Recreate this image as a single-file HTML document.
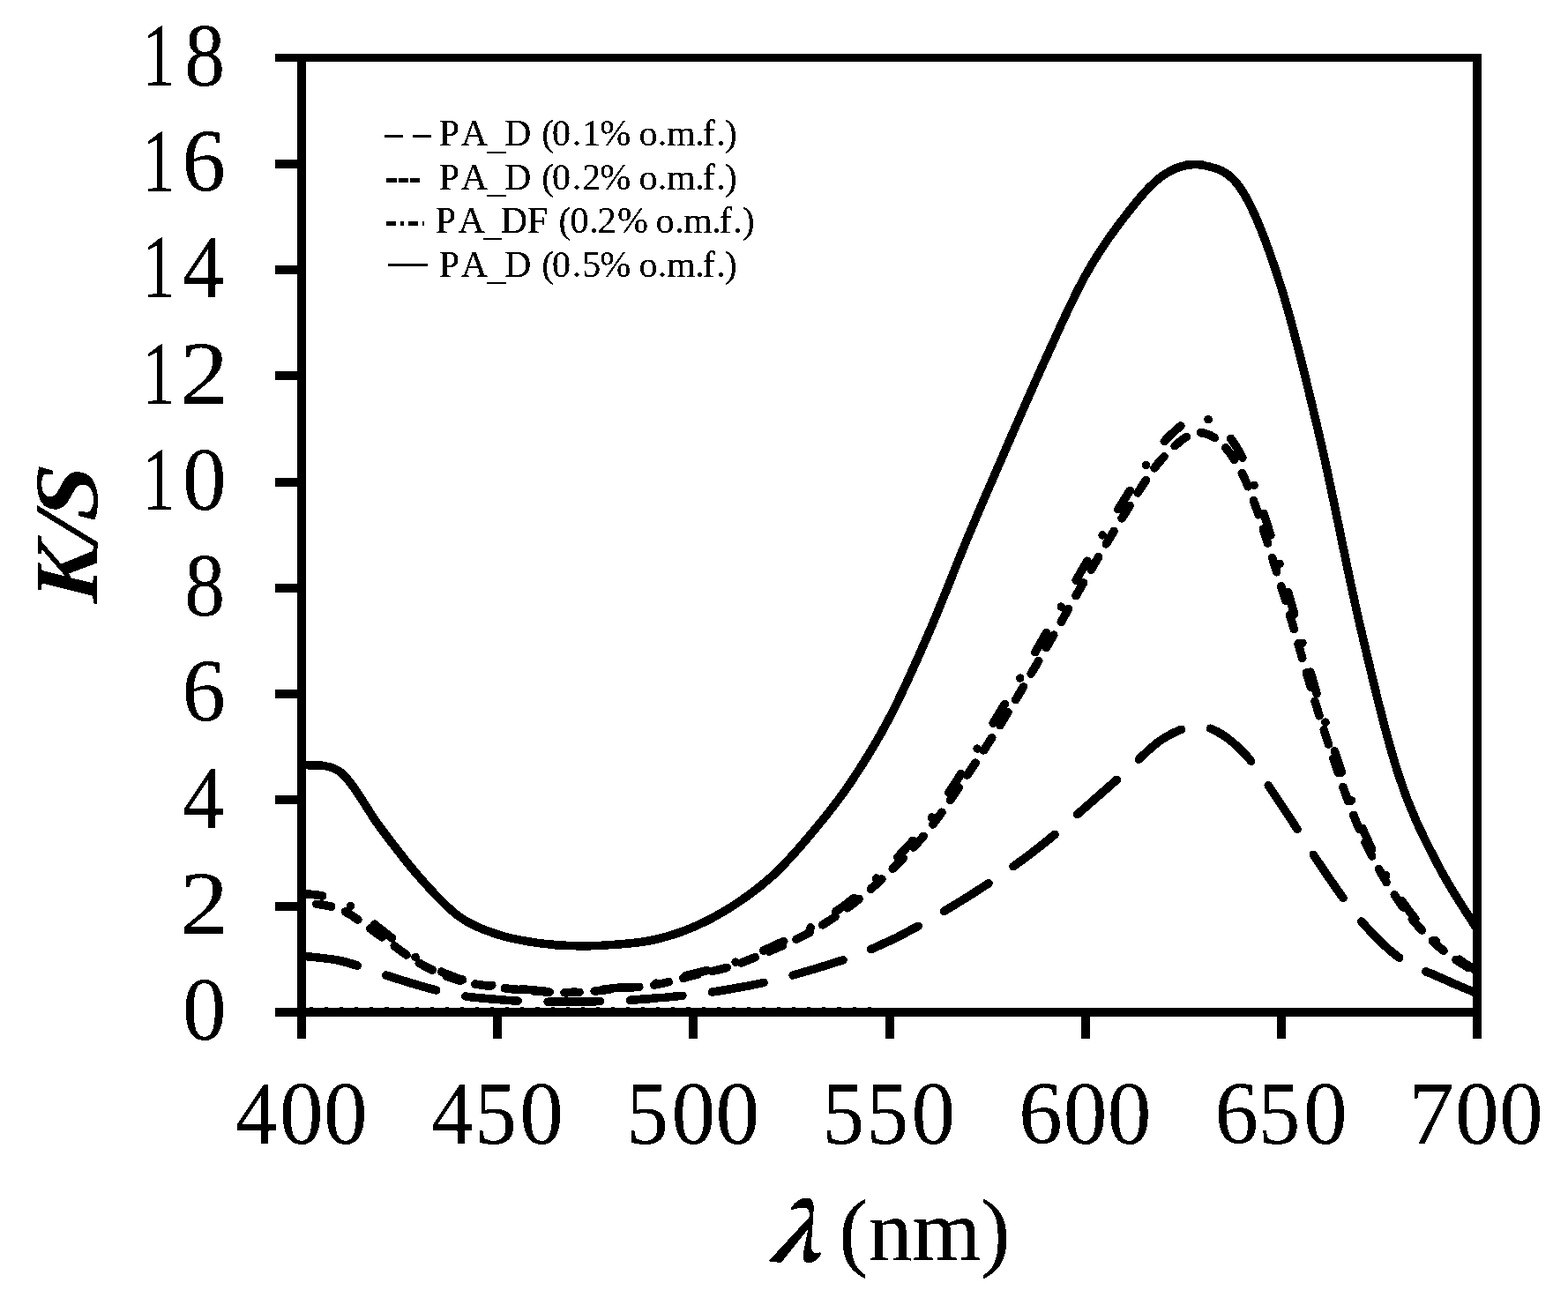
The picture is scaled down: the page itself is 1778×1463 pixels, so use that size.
<!DOCTYPE html>
<html lang="en"><head><meta charset="utf-8"><title>K/S vs wavelength</title>
<style>html,body{margin:0;padding:0;background:#fff;}body{width:1778px;height:1463px;overflow:hidden;}svg{display:block;}</style>
</head><body>
<svg width="1778" height="1463" viewBox="0 0 1778 1463">
<defs><filter id="bw" x="0" y="0" width="100%" height="100%" filterUnits="objectBoundingBox" color-interpolation-filters="sRGB"><feComponentTransfer><feFuncR type="discrete" tableValues="0 1"/><feFuncG type="discrete" tableValues="0 1"/><feFuncB type="discrete" tableValues="0 1"/></feComponentTransfer></filter></defs>
<g filter="url(#bw)">
<rect width="1778" height="1463" fill="#fff"/>
<g fill="none" stroke="#000" stroke-linecap="round" stroke-linejoin="round">
<path d="M347,1142.4 H1000" stroke-width="1.3" stroke-linecap="butt" stroke-dasharray="4 13.1" stroke-dashoffset="-4"/>
<path d="M342.0,1084.0 C349.4,1085.0 371.6,1086.4 386.4,1089.7 C401.2,1093.0 416.1,1099.2 430.9,1103.8 C445.7,1108.5 460.5,1113.5 475.3,1117.6 C490.1,1121.8 504.9,1126.0 519.7,1128.7 C534.5,1131.3 549.4,1132.3 564.2,1133.5 C579.0,1134.7 593.8,1135.7 608.6,1136.1 C623.4,1136.5 638.2,1136.0 653.0,1135.9 C667.8,1135.7 682.7,1135.7 697.5,1135.1 C712.3,1134.5 727.1,1133.3 741.9,1132.1 C756.7,1130.9 771.5,1129.7 786.3,1127.9 C801.1,1126.1 816.0,1123.8 830.8,1121.2 C845.6,1118.7 860.4,1115.9 875.2,1112.3 C890.0,1108.8 904.8,1104.4 919.6,1100.0 C934.4,1095.6 949.3,1091.4 964.1,1085.9 C978.9,1080.5 993.7,1074.3 1008.5,1067.2 C1023.3,1060.2 1038.1,1052.0 1052.9,1043.7 C1067.7,1035.3 1082.6,1026.3 1097.4,1017.0 C1112.2,1007.7 1127.0,998.2 1141.8,987.8 C1156.6,977.4 1171.4,966.5 1186.2,954.5 C1201.0,942.4 1215.9,928.6 1230.7,915.7 C1245.5,902.7 1260.3,889.7 1275.1,876.7 C1289.9,863.6 1304.7,846.2 1319.5,837.4 C1334.3,828.6 1349.2,821.5 1364.0,823.9 C1378.8,826.3 1393.6,836.8 1408.4,851.6 C1423.2,866.4 1438.0,891.0 1452.8,912.6 C1467.6,934.2 1482.5,959.7 1497.3,981.3 C1512.1,1003.0 1526.9,1025.2 1541.7,1042.6 C1556.5,1060.0 1571.3,1075.0 1586.1,1085.8 C1600.9,1096.7 1615.8,1100.8 1630.6,1107.6 C1645.4,1114.4 1667.6,1123.6 1675.0,1126.8" stroke-width="9.6" stroke-dasharray="59.5 34" stroke-dashoffset="-5"/>
<path d="M342.0,1023.5 C349.4,1024.8 371.6,1025.2 386.4,1031.5 C401.2,1037.8 416.1,1051.0 430.9,1061.1 C445.7,1071.2 460.5,1083.8 475.3,1092.2 C490.1,1100.7 504.9,1107.1 519.7,1111.7 C534.5,1116.3 549.4,1117.6 564.2,1119.7 C579.0,1121.8 593.8,1123.2 608.6,1124.2 C623.4,1125.2 638.2,1125.9 653.0,1125.5 C667.8,1125.0 682.7,1123.0 697.5,1121.6 C712.3,1120.2 727.1,1119.6 741.9,1117.0 C756.7,1114.5 771.5,1109.9 786.3,1106.3 C801.1,1102.7 816.0,1100.1 830.8,1095.3 C845.6,1090.5 860.4,1084.2 875.2,1077.7 C890.0,1071.3 904.8,1065.0 919.6,1056.6 C934.4,1048.2 949.3,1038.6 964.1,1027.3 C978.9,1016.0 993.7,1003.2 1008.5,988.9 C1023.3,974.5 1038.1,959.7 1052.9,941.3 C1067.7,922.8 1082.6,900.0 1097.4,878.1 C1112.2,856.2 1127.0,833.7 1141.8,809.8 C1156.6,785.9 1171.4,760.3 1186.2,734.9 C1201.0,709.5 1215.9,682.5 1230.7,657.2 C1245.5,631.9 1260.3,606.2 1275.1,583.1 C1289.9,559.9 1304.7,533.7 1319.5,518.4 C1334.3,503.0 1349.2,488.0 1364.0,491.0 C1378.8,494.0 1393.6,507.6 1408.4,536.7 C1423.2,565.7 1438.0,618.7 1452.8,665.2 C1467.6,711.7 1482.5,769.5 1497.3,815.6 C1512.1,861.6 1526.9,906.9 1541.7,941.3 C1556.5,975.7 1571.3,1000.2 1586.1,1022.1 C1600.9,1044.1 1615.8,1059.3 1630.6,1072.9 C1645.4,1086.5 1667.6,1098.6 1675.0,1103.8" stroke-width="9.6" stroke-dasharray="17 17" stroke-dashoffset="17"/>
<path d="M342.0,1013.0 C349.4,1014.4 371.6,1014.8 386.4,1021.5 C401.2,1028.2 416.1,1041.9 430.9,1053.0 C445.7,1064.1 460.5,1078.8 475.3,1088.2 C490.1,1097.7 504.9,1104.7 519.7,1109.7 C534.5,1114.7 549.4,1116.0 564.2,1118.2 C579.0,1120.5 593.8,1122.2 608.6,1123.2 C623.4,1124.2 638.2,1124.9 653.0,1124.5 C667.8,1124.0 682.7,1122.1 697.5,1120.6 C712.3,1119.1 727.1,1118.2 741.9,1115.5 C756.7,1112.8 771.5,1108.2 786.3,1104.3 C801.1,1100.5 816.0,1097.4 830.8,1092.3 C845.6,1087.2 860.4,1080.5 875.2,1073.7 C890.0,1066.9 904.8,1060.2 919.6,1051.6 C934.4,1042.9 949.3,1033.5 964.1,1021.8 C978.9,1010.1 993.7,996.5 1008.5,981.6 C1023.3,966.6 1038.1,951.2 1052.9,931.9 C1067.7,912.6 1082.6,888.6 1097.4,865.7 C1112.2,842.8 1127.0,818.9 1141.8,794.3 C1156.6,769.7 1171.4,743.9 1186.2,718.1 C1201.0,692.4 1215.9,665.2 1230.7,639.8 C1245.5,614.5 1260.3,589.2 1275.1,566.1 C1289.9,543.0 1304.7,516.7 1319.5,501.4 C1334.3,486.0 1349.2,471.2 1364.0,474.0 C1378.8,476.8 1393.6,489.5 1408.4,518.1 C1423.2,546.7 1438.0,598.5 1452.8,645.6 C1467.6,692.7 1482.5,752.9 1497.3,800.6 C1512.1,848.3 1526.9,895.8 1541.7,931.8 C1556.5,967.8 1571.3,993.4 1586.1,1016.3 C1600.9,1039.3 1615.8,1055.1 1630.6,1069.4 C1645.4,1083.6 1667.6,1096.4 1675.0,1101.8" stroke-width="9.6" stroke-dasharray="25.5 34 0.01 34" stroke-dashoffset="1.5"/>
<path d="M342.0,867.4 C349.4,868.9 371.6,864.3 386.4,876.1 C401.2,887.9 416.1,918.4 430.9,938.1 C445.7,957.8 460.5,977.6 475.3,994.4 C490.1,1011.2 504.9,1027.9 519.7,1038.8 C534.5,1049.7 549.4,1054.6 564.2,1059.7 C579.0,1064.8 593.8,1067.1 608.6,1069.3 C623.4,1071.5 638.2,1072.5 653.0,1072.8 C667.8,1073.1 682.7,1072.5 697.5,1071.3 C712.3,1070.1 727.1,1069.0 741.9,1065.7 C756.7,1062.4 771.5,1057.8 786.3,1051.4 C801.1,1045.0 816.0,1037.1 830.8,1027.5 C845.6,1017.9 860.4,1007.5 875.2,993.9 C890.0,980.3 904.8,963.4 919.6,945.8 C934.4,928.2 949.3,910.0 964.1,888.1 C978.9,866.2 993.7,842.6 1008.5,814.3 C1023.3,786.0 1038.1,752.6 1052.9,718.5 C1067.7,684.4 1082.6,644.9 1097.4,609.5 C1112.2,574.1 1127.0,540.2 1141.8,506.2 C1156.6,472.2 1171.4,438.0 1186.2,405.7 C1201.0,373.4 1215.9,339.1 1230.7,312.5 C1245.5,285.9 1260.3,265.1 1275.1,246.1 C1289.9,227.1 1304.7,208.2 1319.5,198.4 C1334.3,188.6 1349.2,184.3 1364.0,187.3 C1378.8,190.3 1393.6,193.1 1408.4,216.2 C1423.2,239.3 1438.0,278.8 1452.8,326.0 C1467.6,373.2 1482.5,436.1 1497.3,499.7 C1512.1,563.2 1526.9,644.0 1541.7,707.3 C1556.5,770.6 1571.3,833.9 1586.1,879.5 C1600.9,925.1 1615.8,952.0 1630.6,981.0 C1645.4,1010.0 1667.6,1041.7 1675.0,1053.8" stroke-width="9.6"/>
</g>
<g fill="#000" shape-rendering="crispEdges">
<rect x="312" y="61" width="1368" height="9"/>
<rect x="312" y="1143" width="1368" height="10"/>
<rect x="337" y="61" width="10" height="1117"/>
<rect x="1670" y="61" width="10" height="1117"/>
<rect x="312" y="180.8" width="30" height="10"/>
<rect x="312" y="301.1" width="30" height="10"/>
<rect x="312" y="421.3" width="30" height="10"/>
<rect x="312" y="541.6" width="30" height="10"/>
<rect x="312" y="661.9" width="30" height="10"/>
<rect x="312" y="782.2" width="30" height="10"/>
<rect x="312" y="902.4" width="30" height="10"/>
<rect x="312" y="1022.7" width="30" height="10"/>
<rect x="559.2" y="1148" width="10" height="30"/>
<rect x="781.3" y="1148" width="10" height="30"/>
<rect x="1003.5" y="1148" width="10" height="30"/>
<rect x="1225.7" y="1148" width="10" height="30"/>
<rect x="1447.8" y="1148" width="10" height="30"/>
</g>
<g stroke="#000" fill="none" shape-rendering="crispEdges">
<path d="M436,154.3 H489" stroke-width="3.4" stroke-dasharray="21 11"/>
<path d="M438,204.8 H476" stroke-width="4.8" stroke-dasharray="11.5 2"/>
<path d="M438,253 H481" stroke-width="5" stroke-dasharray="11 5 3.5 5"/>
<path d="M440,300.6 H485" stroke-width="3.7"/>
</g>
<g font-family="'Liberation Serif', serif" fill="#000">
<text x="497.8 522.8 552.2 571.9 602 614.3 626.1 648.8 660.3 680.3 715 724.5 745.8 756 788.2 796.6 812.1 821.8" y="165.3" dy="0 0 3.4 -3.4 0 0 0 0 0 0 0 0 0 0 0 0 0 0" font-size="42" stroke="#000" stroke-width="0.2" style="font-kerning:none" xml:space="preserve">PA_D (0.1% o.m.f.)</text>
<text x="497.8 522.8 552.2 571.9 602 614.3 626.1 648.8 660.3 680.3 715 724.5 745.8 756 788.2 796.6 812.1 821.8" y="215" dy="0 0 3.4 -3.4 0 0 0 0 0 0 0 0 0 0 0 0 0 0" font-size="42" stroke="#000" stroke-width="0.2" style="font-kerning:none" xml:space="preserve">PA_D (0.2% o.m.f.)</text>
<text x="493.7 519.4 548.1 567.8 597.8 621 633.5 646.6 668 677.8 700.1 735 743.6 765 775.1 807.4 815.7 831.2 841.7" y="263.7" dy="0 0 3.4 -3.4 0 0 0 0 0 0 0 0 0 0 0 0 0 0 0" font-size="42" stroke="#000" stroke-width="0.2" style="font-kerning:none" xml:space="preserve">PA_DF (0.2% o.m.f.)</text>
<text x="497.8 522.8 552.2 571.9 602 614.3 626.1 648.8 660.3 680.3 715 724.5 745.8 756 788.2 796.6 812.1 821.8" y="313.8" dy="0 0 3.4 -3.4 0 0 0 0 0 0 0 0 0 0 0 0 0 0" font-size="42" stroke="#000" stroke-width="0.2" style="font-kerning:none" xml:space="preserve">PA_D (0.5% o.m.f.)</text>
<text transform="translate(0,96.80) scale(1,1.024)" font-size="100" stroke="#000" stroke-width="0.2"><tspan x="161.3" textLength="37.14" lengthAdjust="spacingAndGlyphs">1</tspan><tspan x="209.2" textLength="45.79" lengthAdjust="spacingAndGlyphs">8</tspan></text>
<text transform="translate(0,217.08) scale(1,1.024)" font-size="100" stroke="#000" stroke-width="0.2"><tspan x="161.3" textLength="37.14" lengthAdjust="spacingAndGlyphs">1</tspan><tspan x="206.6" textLength="49.39" lengthAdjust="spacingAndGlyphs">6</tspan></text>
<text transform="translate(0,337.36) scale(1,1.024)" font-size="100" stroke="#000" stroke-width="0.2"><tspan x="161.3" textLength="37.14" lengthAdjust="spacingAndGlyphs">1</tspan><tspan x="206.9" textLength="47.23" lengthAdjust="spacingAndGlyphs">4</tspan></text>
<text transform="translate(0,457.63) scale(1,1.024)" font-size="100" stroke="#000" stroke-width="0.2"><tspan x="161.3" textLength="37.14" lengthAdjust="spacingAndGlyphs">1</tspan><tspan x="204.2" textLength="54.86" lengthAdjust="spacingAndGlyphs">2</tspan></text>
<text transform="translate(0,577.91) scale(1,1.024)" font-size="100" stroke="#000" stroke-width="0.2"><tspan x="161.3" textLength="37.14" lengthAdjust="spacingAndGlyphs">1</tspan><tspan x="207.0" textLength="49.67" lengthAdjust="spacingAndGlyphs">0</tspan></text>
<text transform="translate(0,698.19) scale(1,1.024)" font-size="100" stroke="#000" stroke-width="0.2"><tspan x="209.2" textLength="45.79" lengthAdjust="spacingAndGlyphs">8</tspan></text>
<text transform="translate(0,818.47) scale(1,1.024)" font-size="100" stroke="#000" stroke-width="0.2"><tspan x="206.6" textLength="49.39" lengthAdjust="spacingAndGlyphs">6</tspan></text>
<text transform="translate(0,938.74) scale(1,1.024)" font-size="100" stroke="#000" stroke-width="0.2"><tspan x="206.9" textLength="47.23" lengthAdjust="spacingAndGlyphs">4</tspan></text>
<text transform="translate(0,1059.02) scale(1,1.024)" font-size="100" stroke="#000" stroke-width="0.2"><tspan x="204.2" textLength="54.86" lengthAdjust="spacingAndGlyphs">2</tspan></text>
<text transform="translate(0,1179.30) scale(1,1.024)" font-size="100" stroke="#000" stroke-width="0.2"><tspan x="207.0" textLength="49.67" lengthAdjust="spacingAndGlyphs">0</tspan></text>
<text transform="translate(0,1296.8) scale(1,1.024)" font-size="100" stroke="#000" stroke-width="0.2"><tspan x="267.0" textLength="47.23" lengthAdjust="spacingAndGlyphs">4</tspan><tspan x="317.1" textLength="49.67" lengthAdjust="spacingAndGlyphs">0</tspan><tspan x="367.1" textLength="49.67" lengthAdjust="spacingAndGlyphs">0</tspan></text>
<text transform="translate(0,1296.8) scale(1,1.024)" font-size="100" stroke="#000" stroke-width="0.2"><tspan x="489.2" textLength="47.23" lengthAdjust="spacingAndGlyphs">4</tspan><tspan x="538.5" textLength="47.30" lengthAdjust="spacingAndGlyphs">5</tspan><tspan x="589.3" textLength="49.67" lengthAdjust="spacingAndGlyphs">0</tspan></text>
<text transform="translate(0,1296.8) scale(1,1.024)" font-size="100" stroke="#000" stroke-width="0.2"><tspan x="710.6" textLength="47.30" lengthAdjust="spacingAndGlyphs">5</tspan><tspan x="761.4" textLength="49.67" lengthAdjust="spacingAndGlyphs">0</tspan><tspan x="811.4" textLength="49.67" lengthAdjust="spacingAndGlyphs">0</tspan></text>
<text transform="translate(0,1296.8) scale(1,1.024)" font-size="100" stroke="#000" stroke-width="0.2"><tspan x="932.8" textLength="47.30" lengthAdjust="spacingAndGlyphs">5</tspan><tspan x="982.8" textLength="47.30" lengthAdjust="spacingAndGlyphs">5</tspan><tspan x="1033.6" textLength="49.67" lengthAdjust="spacingAndGlyphs">0</tspan></text>
<text transform="translate(0,1296.8) scale(1,1.024)" font-size="100" stroke="#000" stroke-width="0.2"><tspan x="1155.3" textLength="49.39" lengthAdjust="spacingAndGlyphs">6</tspan><tspan x="1205.8" textLength="49.67" lengthAdjust="spacingAndGlyphs">0</tspan><tspan x="1255.8" textLength="49.67" lengthAdjust="spacingAndGlyphs">0</tspan></text>
<text transform="translate(0,1296.8) scale(1,1.024)" font-size="100" stroke="#000" stroke-width="0.2"><tspan x="1377.5" textLength="49.39" lengthAdjust="spacingAndGlyphs">6</tspan><tspan x="1427.1" textLength="47.30" lengthAdjust="spacingAndGlyphs">5</tspan><tspan x="1477.9" textLength="49.67" lengthAdjust="spacingAndGlyphs">0</tspan></text>
<text transform="translate(0,1296.8) scale(1,1.024)" font-size="100" stroke="#000" stroke-width="0.2"><tspan x="1597.1" textLength="51.93" lengthAdjust="spacingAndGlyphs">7</tspan><tspan x="1650.1" textLength="49.67" lengthAdjust="spacingAndGlyphs">0</tspan><tspan x="1700.1" textLength="49.67" lengthAdjust="spacingAndGlyphs">0</tspan></text>
<text transform="translate(871.5,1429.5) skewX(-22) scale(0.87,0.86)" font-family="'Noto Serif CJK SC', 'Liberation Serif', serif" font-size="100" font-weight="bold" stroke="#000" stroke-width="2.4" stroke-linejoin="round">λ</text>
<text transform="translate(951.2,1429)" font-size="100" stroke="#000" stroke-width="0.2">(nm)</text>
<text transform="translate(109.8,685.5) rotate(-90) scale(1,1.028) skewX(-4.6)" font-size="100" font-style="italic" font-weight="bold"><tspan x="0.7" textLength="67.0" lengthAdjust="spacingAndGlyphs">K</tspan><tspan x="69.8" textLength="29.4" lengthAdjust="spacingAndGlyphs">/</tspan><tspan x="93.5" textLength="62.2" lengthAdjust="spacingAndGlyphs">S</tspan></text>
</g>
</g>
</svg>
</body></html>
